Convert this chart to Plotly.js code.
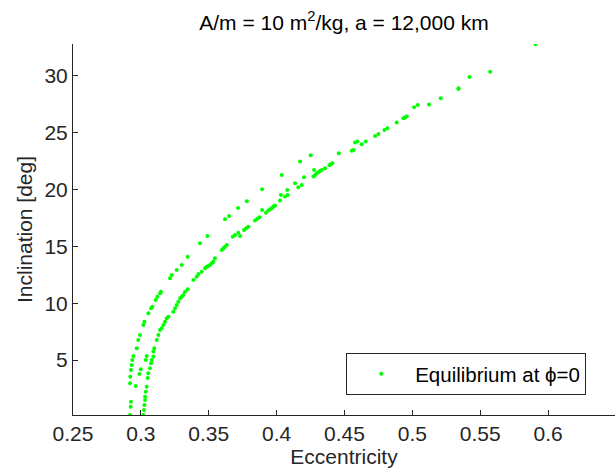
<!DOCTYPE html>
<html>
<head>
<meta charset="utf-8">
<script src="https://cdn.plot.ly/plotly-3.0.1.min.js"></script>
<style>html,body{margin:0;padding:0;background:#fff;}#chart{width:615px;height:468px;}</style>
</head>
<body>
<div id="chart"></div>
<script>
// Outer (upper-left) branch
const eccOuter = [0.2920,0.2925,0.2927,0.2962,0.2920,0.2922,0.2927,0.2932,0.2937,0.2945,0.2969,0.2981,0.2994,0.3018,0.3026,0.3055,0.3075,0.3085,0.3109,0.3121,0.3141,0.3148,0.3215,0.3227,0.3264,0.3301,0.3345,0.3436,0.3490,0.3620,0.3650,0.3716,0.3780,0.3893,0.4038,0.4173,0.4251,0.4458];
const incOuter = [0.18,0.91,1.35,2.73,2.96,3.55,4.13,4.57,5.01,5.37,6.04,6.77,7.21,8.09,8.38,9.12,9.56,9.70,10.29,10.58,10.88,11.02,12.20,12.49,12.93,13.37,14.10,15.27,15.92,17.38,17.68,18.38,18.97,20.02,21.28,22.46,23.01,23.19];
// Scattered points between the branches
const eccMiddle = [0.2989,0.2999,0.3036,0.3043,0.3050];
const incMiddle = [3.78,4.19,5.01,5.37,3.43];
// Inner (lower-right) branch
const eccInner = [0.3018,0.3023,0.3026,0.3031,0.3031,0.3036,0.3043,0.3055,0.3067,0.3075,0.3080,0.3092,0.3092,0.3099,0.3117,0.3129,0.3141,0.3153,0.3166,0.3178,0.3190,0.3203,0.3239,0.3252,0.3264,0.3276,0.3289,0.3301,0.3313,0.3325,0.3345,0.3387,0.3411,0.3424,0.3448,0.3473,0.3485,0.3497,0.3510,0.3522,0.3534,0.3546,0.3596,0.3608,0.3620,0.3633,0.3677,0.3694,0.3718,0.3731,0.3760,0.3775,0.3792,0.3841,0.3858,0.3873,0.3893,0.3922,0.3939,0.3952,0.3964,0.3976,0.3989,0.4025,0.4032,0.4062,0.4082,0.4079,0.4136,0.4160,0.4185,0.4202,0.4271,0.4283,0.4296,0.4308,0.4320,0.4333,0.4276,0.4357,0.4389,0.4399,0.4411,0.4554,0.4566,0.4578,0.4595,0.4627,0.4657,0.4726,0.4750,0.4794,0.4816,0.4885,0.4934,0.4947,0.4959,0.5013,0.5040,0.5123,0.5209,0.5340,0.5340,0.5421,0.5573,0.5907];
const incInner = [0.18,0.62,1.06,1.50,1.79,2.23,2.67,3.84,4.28,4.72,5.01,5.31,5.75,6.04,6.77,7.21,7.65,7.80,8.09,8.38,8.68,8.82,9.26,9.56,9.85,10.14,10.44,10.58,10.73,11.02,11.23,12.05,12.34,12.58,12.78,13.08,13.22,13.28,13.37,13.52,13.66,13.95,14.69,14.83,14.98,15.13,15.86,16.01,16.21,15.92,16.45,16.59,16.74,17.27,17.44,17.56,18.21,17.97,18.15,18.26,18.35,18.50,18.59,19.03,19.53,19.38,19.53,19.96,20.55,20.20,20.40,21.08,21.14,21.28,21.43,21.52,21.64,21.72,21.72,21.87,22.13,22.22,22.31,23.42,23.48,24.13,24.22,23.98,24.22,24.71,24.89,25.24,25.39,25.89,26.27,26.35,26.42,27.24,27.44,27.47,28.03,28.91,28.85,29.90,30.37,32.78];

const titleText = 'A/m = 10 m<sup>2</sup>/kg, a = 12,000 km';
const xLabel = 'Eccentricity';
const yLabel = 'Inclination [deg]';
const seriesName = 'Equilibrium at \u03D5=0';

const FONT = 'Liberation Sans, Arial, Helvetica, sans-serif';
const AX = '#262626';

const trace = {
  x: eccOuter.concat(eccMiddle, eccInner),
  y: incOuter.concat(incMiddle, incInner),
  mode: 'markers',
  type: 'scatter',
  name: seriesName,
  marker: {color: '#00ff00', size: 4},
  showlegend: true
};

const layout = {
  width: 615, height: 468,
  margin: {l: 73, r: 0, t: 44, b: 53},
  paper_bgcolor: '#fff', plot_bgcolor: '#fff',
  font: {family: FONT, size: 21, color: AX},
  title: {text: titleText, x: 0.5, xref: 'paper', xanchor: 'center', y: 0.952, yref: 'container', yanchor: 'middle', font: {family: FONT, size: 21, color: '#000'}},
  xaxis: {
    range: [0.25, 0.6493], tick0: 0.25, dtick: 0.05,
    showgrid: false, zeroline: false, showline: true, linecolor: AX, linewidth: 1,
    ticks: 'inside', ticklen: 5, tickcolor: AX, mirror: false,
    tickfont: {family: FONT, size: 21, color: AX},
    title: {text: xLabel, font: {family: FONT, size: 21, color: AX}, standoff: 6}
  },
  yaxis: {
    range: [0.176, 32.8], tick0: 0, dtick: 5,
    showgrid: false, zeroline: false, showline: true, linecolor: AX, linewidth: 1,
    ticks: 'inside', ticklen: 5, tickcolor: AX, mirror: false,
    tickfont: {family: FONT, size: 21, color: AX},
    title: {text: yLabel, font: {family: FONT, size: 21, color: AX}, standoff: 6}
  },
  showlegend: true,
  legend: {
    x: 0.504, xanchor: 'left', y: 0.167, yanchor: 'top',
    bgcolor: '#fff', bordercolor: AX, borderwidth: 1,
    itemwidth: 58,
    font: {family: FONT, size: 20.5, color: '#000'}
  }
};

Plotly.newPlot('chart', [trace], layout, {displayModeBar: false, staticPlot: true});
</script>
</body>
</html>
